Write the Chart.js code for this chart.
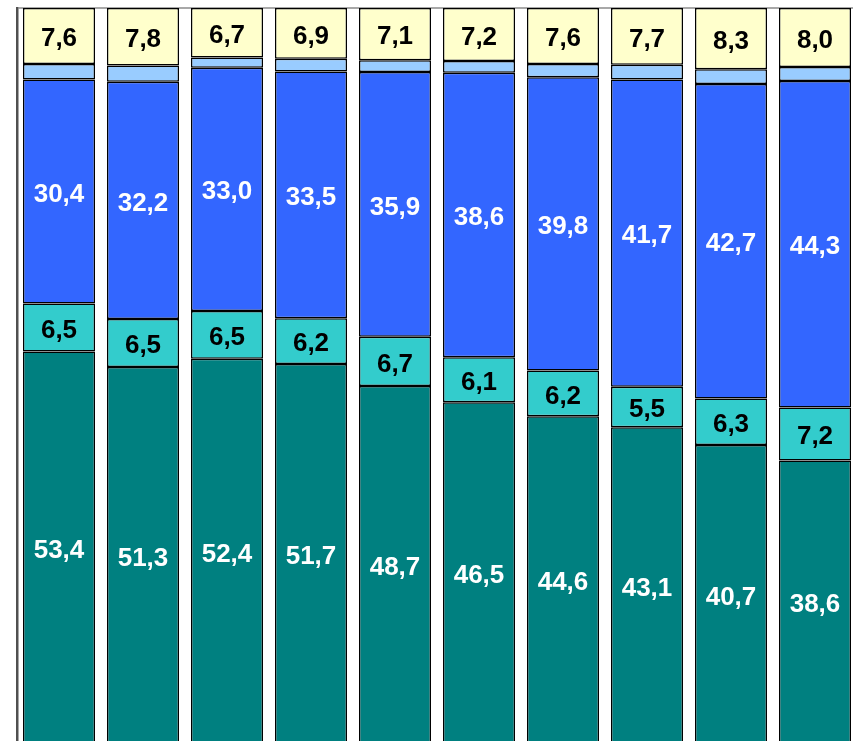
<!DOCTYPE html>
<html>
<head>
<meta charset="utf-8">
<script src="https://cdn.jsdelivr.net/npm/chart.js@4/dist/chart.umd.min.js"></script>
<style>
  html, body { margin: 0; padding: 0; background: #ffffff; overflow: hidden; }
  #wrap { position: absolute; left: 0; top: 0; width: 857px; height: 748px; }
</style>
</head>
<body>
<div id="wrap"><canvas id="c"></canvas></div>
<script>
// Ten columns, each split into five shares (percent of total)
const categories = ["1", "2", "3", "4", "5", "6", "7", "8", "9", "10"];
const shareA = [53.4, 51.3, 52.4, 51.7, 48.7, 46.5, 44.6, 43.1, 40.7, 38.6];
const shareB = [6.5, 6.5, 6.5, 6.2, 6.7, 6.1, 6.2, 5.5, 6.3, 7.2];
const shareC = [30.4, 32.2, 33.0, 33.5, 35.9, 38.6, 39.8, 41.7, 42.7, 44.3];
const shareD = [2.1, 2.2, 1.4, 1.7, 1.6, 1.6, 1.8, 2.0, 2.0, 1.9];
const shareE = [7.6, 7.8, 6.7, 6.9, 7.1, 7.2, 7.6, 7.7, 8.3, 8.0];
const yTicks = [0, 100];

function series(data, fill, labelColor) {
  return {
    data: data,
    backgroundColor: fill,
    borderColor: "#000000",
    borderWidth: 1.5,
    borderSkipped: false,
    categoryPercentage: 1.0,
    barPercentage: 0.858,
    labelColor: labelColor
  };
}

// Writes each segment's value in its middle, with a decimal comma
const segmentLabels = {
  id: "segmentLabels",
  afterDatasetsDraw(chart) {
    const ctx = chart.ctx;
    ctx.save();
    ctx.font = "bold 26px 'Liberation Sans', Arial, sans-serif";
    ctx.textAlign = "center";
    ctx.textBaseline = "middle";
    chart.data.datasets.forEach((ds, di) => {
      if (!ds.labelColor) return;
      const meta = chart.getDatasetMeta(di);
      ctx.fillStyle = ds.labelColor;
      meta.data.forEach((el, i) => {
        const v = ds.data[i];
        const txt = v.toFixed(1).replace(".", ",");
        ctx.fillText(txt, el.x, (el.y + el.base) / 2 + 3);
      });
    });
    ctx.restore();
  }
};

new Chart(document.getElementById("c"), {
  type: "bar",
  data: {
    labels: categories,
    datasets: [
      series(shareA, "#008080", "#ffffff"),
      series(shareB, "#33CCCC", "#000000"),
      series(shareC, "#3366FF", "#ffffff"),
      series(shareD, "#99CCFF", null),
      series(shareE, "#FFFFCC", "#000000")
    ]
  },
  options: {
    responsive: true,
    maintainAspectRatio: false,
    animation: false,
    layout: { padding: { left: 17, top: 8, right: 0, bottom: 3 } },
    plugins: { legend: { display: false }, tooltip: { enabled: false } },
    scales: {
      x: {
        stacked: true,
        display: false
      },
      y: {
        stacked: true,
        min: 0,
        max: 100,
        afterBuildTicks(scale) { scale.ticks = yTicks.map(v => ({ value: v })); },
        ticks: { display: false },
        grid: { display: true, drawTicks: false, color: "#a8a8a8", lineWidth: 2 },
        border: { display: true, color: "#505050", width: 2.5 }
      }
    }
  },
  plugins: [segmentLabels]
});
</script>
</body>
</html>
